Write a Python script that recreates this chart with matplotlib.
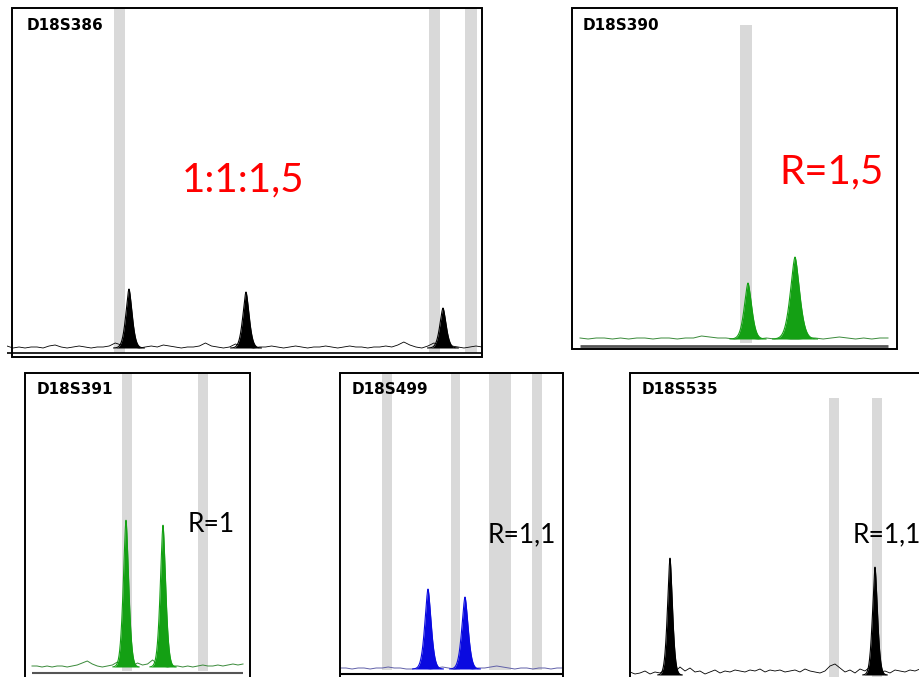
import numpy as np
import matplotlib.pyplot as plt
from matplotlib.patches import Rectangle

W, H = 920, 677

# ---------------- data (x in panel pixel-scale units, heights in signal units) -------------
markers = ["D18S386", "D18S390", "D18S391", "D18S499", "D18S535"]
ratio_labels = ["1:1:1,5", "R=1,5", "R=1", "R=1,1", "R=1,1"]

peak_pos_386 = [129, 246, 443]
peak_h_386 = [59, 56, 40]
peak_pos_390 = [748, 795]
peak_h_390 = [56, 82]
peak_pos_391 = [126, 163]
peak_h_391 = [147, 142]
peak_pos_499 = [428, 465]
peak_h_499 = [80, 72]
peak_pos_535 = [670, 875]
peak_h_535 = [117, 108]

# allele bins (gray bands): (x start, x end)
bins_386 = [(114, 125), (429, 440), (465, 477)]
bins_390 = [(740, 752)]
bins_391 = [(122, 132), (198, 208)]
bins_499 = [(382, 392), (451, 460), (489, 511), (532, 542)]
bins_535 = [(829, 839), (872, 882)]

# baseline noise
noise_386 = [2, 0, 1, 0, 1, 1, 0, 2, 3, 1, 0, 1, 2, 1, 0, 1, 1, 2, 5, 3, 2, 1, 0, 1, 2, 1,
             3, 2, 1, 0, 1, 1, 2, 5, 2, 1, 0, 1, 4, 2, 1, 0, 1, 1, 2, 1, 0, 1, 2, 1, 0, 1,
             1, 2, 1, 0, 1, 2, 1, 1, 0, 1, 1, 2, 1, 3, 6, 3, 1, 0, 2, 5, 3, 1, 2, 1, 0, 1, 2, 1]
noise_390 = [1, 0, 1, 1, 0, 1, 0, 1, 1, 0, 1, 1, 0, 1, 1, 3, 2, 1, 1, 0, 1, 1, 0, 1, 0, 1,
             0, 0, 1, 1, 0, 1, 2, 1, 0, 1, 0, 1, 1]
noise_391 = [1, 1, 0, 1, 0, 1, 1, 0, 1, 2, 4, 6, 3, 1, 0, 1, 2, 5, 3, 2, 1, 4, 2, 3, 7, 3,
             1, 0, 1, 1, 0, 1, 0, 1, 2, 1, 1, 2, 1, 2, 3, 2, 3]
noise_499 = [1, 1, 0, 1, 1, 0, 1, 1, 2, 1, 1, 0, 0, 1, 1, 0, 1, 2, 1, 0, 1, 1, 0, 1, 1, 2,
             3, 2, 1, 0, 1, 1, 0, 1, 1, 0, 1, 1]
noise_535 = [3, 1, 2, 4, 1, 3, 2, 5, 6, 3, 8, 4, 7, 3, 4, 1, 3, 5, 2, 4, 3, 5, 4, 3, 5, 4,
             6, 3, 5, 4, 5, 3, 4, 5, 3, 6, 4, 3, 2, 4, 9, 11, 7, 3, 5, 2, 6, 4, 8, 5, 3, 4,
             2, 5, 4, 3, 5, 4, 6]

# ---------------- layout / style --------------------------------------------------------
panels = [
    dict(name=markers[0], ratio=ratio_labels[0], pos=peak_pos_386, h=peak_h_386, sig=[3.4, 3.4, 3.4],
         bins=bins_386, noise=noise_386, box=(12, 8, 482, 357), axl=7, base=348,
         trace=(7, 482), bin_top=6, bin_bot=353, fill="black", line="black", lw=0.6,
         extra_lines=[(7, 482, 353, "black", 1.2)], label_xy=(27, 26),
         ratio_xy=(243, 180), ratio_col="red", ratio_size=29),
    dict(name=markers[1], ratio=ratio_labels[1], pos=peak_pos_390, h=peak_h_390, sig=[4.0, 5.0],
         bins=bins_390, noise=noise_390, box=(572, 8, 897, 349), axl=572, base=339,
         trace=(580, 888), bin_top=25, bin_bot=343, fill="#14a014", line="#3a8a3a", lw=0.7,
         extra_lines=[(580, 888, 345.5, "#555555", 2.0)], label_xy=(583, 25),
         ratio_xy=(832, 172), ratio_col="red", ratio_size=29),
    dict(name=markers[2], ratio=ratio_labels[2], pos=peak_pos_391, h=peak_h_391, sig=[2.9, 2.9],
         bins=bins_391, noise=noise_391, box=(25, 373, 250, 695), axl=25, base=667,
         trace=(32, 243), bin_top=373, bin_bot=671, fill="#14a014", line="#3a8a3a", lw=0.7,
         extra_lines=[(32, 243, 673, "#555555", 1.5)], label_xy=(37, 390),
         ratio_xy=(211, 525), ratio_col="black", ratio_size=19),
    dict(name=markers[3], ratio=ratio_labels[3], pos=peak_pos_499, h=peak_h_499, sig=[3.4, 3.4],
         bins=bins_499, noise=noise_499, box=(340, 373, 563, 695), axl=340, base=669,
         trace=(340, 563), bin_top=373, bin_bot=670, fill="#0a0ae0", line="#6060a8", lw=0.7,
         extra_lines=[(340, 563, 674, "black", 1.5)], label_xy=(352, 390),
         ratio_xy=(522, 535), ratio_col="black", ratio_size=19),
    dict(name=markers[4], ratio=ratio_labels[4], pos=peak_pos_535, h=peak_h_535, sig=[2.7, 2.7],
         bins=bins_535, noise=noise_535, box=(630, 373, 940, 695), axl=630, base=675,
         trace=(630, 920), bin_top=398, bin_bot=677, fill="black", line="black", lw=0.6,
         extra_lines=[], label_xy=(642, 390),
         ratio_xy=(887, 535), ratio_col="black", ratio_size=19),
]

fig = plt.figure(figsize=(W / 100, H / 100), dpi=100)

for p in panels:
    l, t, r, b = p["box"]
    axl = p["axl"]
    base = p["base"]
    ax = fig.add_axes([axl / W, 1 - b / H, (r - axl) / W, (b - t) / H])
    ax.set_xlim(axl, r)
    ax.set_ylim(base - b, base - t)
    ax.set_xticks([])
    ax.set_yticks([])
    for s in ax.spines.values():
        s.set_visible(False)
    # box
    ax.add_patch(Rectangle((l, base - b), r - l, b - t, fill=False, edgecolor="black",
                           linewidth=1.4, zorder=6, clip_on=False))
    # allele bins
    for x0, x1 in p["bins"]:
        ax.fill_between([x0, x1], base - p["bin_bot"], base - p["bin_top"],
                        color="#d9d9d9", linewidth=0, zorder=1)
    # extra baseline rules
    for x0, x1, y, c, lw in p["extra_lines"]:
        ax.plot([x0, x1], [base - y, base - y], color=c, linewidth=lw, zorder=5,
                solid_capstyle="butt", clip_on=False)
    # noisy baseline trace
    nx = np.linspace(p["trace"][0], p["trace"][1], len(p["noise"]))
    ax.plot(nx, p["noise"], color=p["line"], linewidth=p["lw"], zorder=3)
    # peaks (slightly triangular profile)
    for mu, hh, sg in zip(p["pos"], p["h"], p["sig"]):
        xf = np.linspace(mu - 4.5 * sg, mu + 4.5 * sg, 160)
        yf = hh * np.exp(-np.abs((xf - mu) / sg) ** 1.6 / 1.6)
        ax.fill_between(xf, 0, yf, color=p["fill"], linewidth=0, zorder=4)
        ax.plot(xf, yf, color=p["fill"], linewidth=0.8, zorder=4)
    # labels
    lx, ly = p["label_xy"]
    fig.text(lx / W, 1 - ly / H, p["name"], fontsize=11, fontweight="bold",
             family="DejaVu Sans", ha="left", va="center", zorder=10)
    rx, ry = p["ratio_xy"]
    fig.text(rx / W, 1 - ry / H, p["ratio"], fontsize=p["ratio_size"], color=p["ratio_col"],
             family="Lato", ha="center", va="center", zorder=10)

fig.savefig("out.png", dpi=100, facecolor="white")
